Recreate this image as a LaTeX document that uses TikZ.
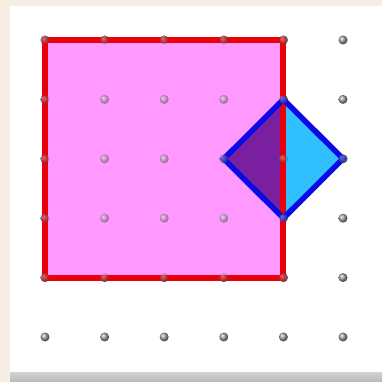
\documentclass[tikz,border=0pt]{standalone}
\usepackage{tikz}
\usetikzlibrary{calc}
\definecolor{paper}{HTML}{F6EEE3}
\definecolor{boardpink}{HTML}{FF99FF}
\definecolor{bandred}{HTML}{E8000A}
\definecolor{bandblue}{HTML}{0A0AE6}
\definecolor{halfpurple}{HTML}{7A1FA0}
\definecolor{halfcyan}{HTML}{30C0FF}
\tikzset{
  peg/.style={shading=ball, ball color=gray!75},
  band/.style={line width=6pt, line join=miter},
}

\begin{document}
\begin{tikzpicture}[x=1pt, y=-1pt]
\useasboundingbox (0,0) rectangle (382,382);
% 背景と板
\fill[paper] (0,0) rectangle (382,382);
\fill[white] (10,6) rectangle (382,372);
\shade[top color=gray!35, bottom color=gray!55] (10,372) rectangle (382,382);

% ピン
\foreach \i in {0,...,5}
  \foreach \j in {0,...,5}
    \coordinate (p\i\j) at ({45+59.6*\i},{40+59.4*\j});
\foreach \i in {0,...,5}
  \foreach \j in {0,...,5}
    \shade[peg] (p\i\j) circle (4.5pt);

% 正方形
\fill[boardpink] (p00) -- (p40) -- (p44) -- (p04) -- cycle;
\foreach \i in {1,2,3}
  \foreach \j in {1,2,3}
    \shade[peg, opacity=0.55] (p\i\j) circle (4.5pt);
\draw[band, bandred] (p00) -- (p40) -- (p44) -- (p04) -- cycle;

% ひし形
\fill[halfpurple] (p41) -- (p32) -- (p43) -- cycle;
\fill[halfcyan] (p41) -- (p52) -- (p43) -- cycle;
\draw[bandred, line width=6pt] (p41) -- (p43);
\draw[band, bandblue, line width=5.5pt] (p41) -- (p52) -- (p43) -- (p32) -- cycle;

% 輪ゴムの上のピン
\foreach \p in {p00,p10,p20,p30,p40,p01,p02,p03,p04,p14,p24,p34,p44,p41,p42,p43,p32,p52}
  \shade[peg, opacity=0.4] (\p) circle (4.5pt);
\end{tikzpicture}
\end{document}
